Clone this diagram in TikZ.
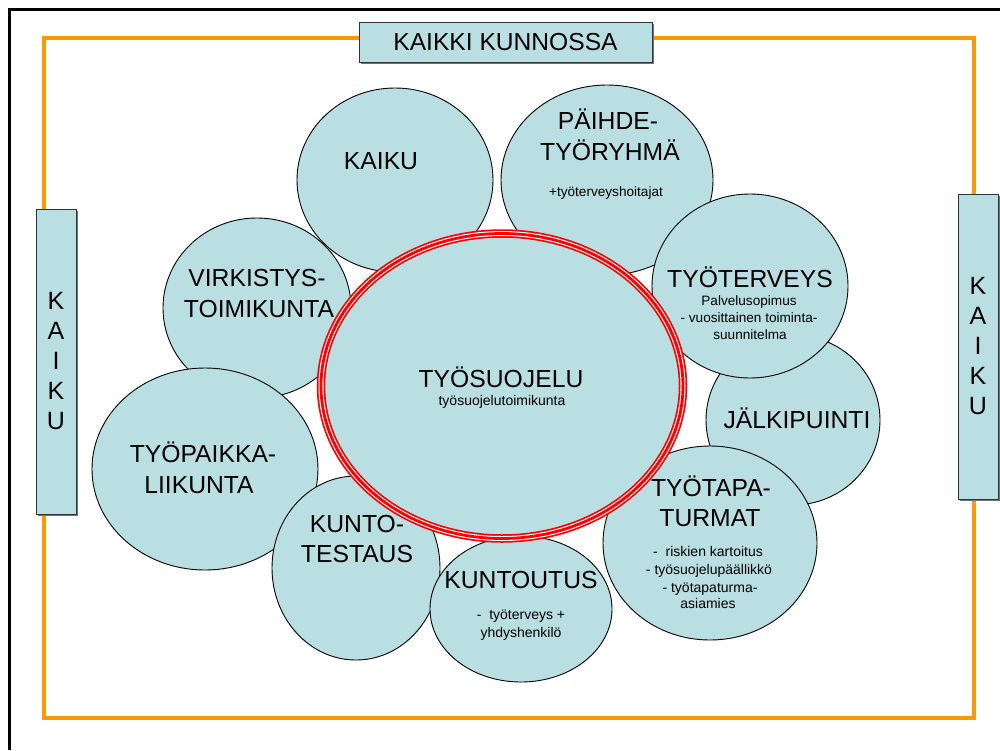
\documentclass[tikz,border=0pt]{standalone}
\usepackage{fontspec}
\setmainfont{Liberation Sans}
\usetikzlibrary{shapes.geometric,shadows}
\definecolor{bluefill}{RGB}{185,223,227}
\definecolor{frameorange}{RGB}{255,153,0}
\begin{document}
\begin{tikzpicture}[x=1pt,y=-1pt,
  blob/.style={ellipse, draw=black, line width=0.9pt, fill=bluefill, inner sep=0pt},
  title/.style={font=\fontsize{24.7}{29}\selectfont, inner sep=0pt, anchor=base},
  sub/.style={font=\fontsize{14}{17}\selectfont, inner sep=0pt, anchor=base},
  box/.style={draw=black!80, line width=0.8pt, fill=bluefill, inner sep=0pt,
    drop shadow={shadow xshift=1.5pt, shadow yshift=-1.5pt, fill=black!55, opacity=1}},
  orangeframe/.style={draw=frameorange, line width=4pt},
  blackframe/.style={draw=black, line width=3pt},
]
\useasboundingbox (0,0) rectangle (1000,750);
% outer frames
\draw[blackframe] (9.5,750) -- (9.5,9.5) -- (1000,9.5);
\draw[orangeframe] (44,38) rectangle (974,718);
% boxes
\node[box, minimum width=293pt, minimum height=40pt, font=\fontsize{24.6}{29}\selectfont] (kk) at (505.5,42) {KAIKKI KUNNOSSA};
\node[box, minimum width=40pt, minimum height=305pt, align=center, font=\fontsize{25}{30}\selectfont] (kl) at (56,361.5) {K\\A\\I\\K\\U};
\node[box, minimum width=40pt, minimum height=305pt, align=center, font=\fontsize{25}{30}\selectfont] (kr) at (978,346.5) {K\\A\\I\\K\\U};
% circles
\node[blob, minimum width=188pt, minimum height=180pt] (virk) at (257,308) {};
\node[blob, minimum width=196pt, minimum height=184pt] (kaiku) at (395,180) {};
\node[blob, minimum width=212pt, minimum height=190pt] (paihde) at (607,180) {};
\node[blob, minimum width=174pt, minimum height=170pt] (jalki) at (793,420) {};
\node[blob, minimum width=196pt, minimum height=184pt] (tyoter) at (750,286) {};
\node[blob, minimum width=214pt, minimum height=194pt] (tyotapa) at (710,543) {};
\node[blob, minimum width=226pt, minimum height=202pt] (paikka) at (205,469) {};
\node[blob, minimum width=168pt, minimum height=184pt] (kunto) at (356,568) {};
\node[blob, minimum width=182pt, minimum height=146pt] (kuntout) at (521,609) {};
% central ring
\node[ellipse, fill=bluefill, draw=red, line width=8.5pt, minimum width=362pt, minimum height=305pt, inner sep=0pt] (ts) at (502,386) {};
\draw[white, line width=5pt] (ts.center) ellipse [x radius=181pt, y radius=152.5pt];
\draw[red, line width=2.8pt] (ts.center) ellipse [x radius=181pt, y radius=152.5pt];
% texts
\node[title] (tkaiku) at (381,169) {KAIKU};
\node[title] (tpa1) at (608,129) {PÄIHDE-};
\node[title] (tpa2) at (610,160) {TYÖRYHMÄ};
\node[sub, font=\fontsize{13.6}{16}\selectfont] (tpa3) at (606,196) {+työterveyshoitajat};
\node[title] (tte1) at (750,287) {TYÖTERVEYS};
\node[sub, font=\fontsize{13.6}{16}\selectfont] (tte2) at (749,305) {Palvelusopimus};
\node[sub, font=\fontsize{13.6}{16}\selectfont] (tte3) at (749,322) {- vuosittainen toiminta-};
\node[sub, font=\fontsize{13.6}{16}\selectfont] (tte4) at (750,339) {suunnitelma};
\node[title] (tja) at (797,428.6) {JÄLKIPUINTI};
\node[title] (tta1) at (711,496) {TYÖTAPA-};
\node[title] (tta2) at (710,526) {TURMAT};
\node[sub] (tta3) at (708,556) {- \ riskien kartoitus};
\node[sub] (tta4) at (709,574) {- työsuojelupäällikkö};
\node[sub] (tta5) at (710,592) {- työtapaturma-};
\node[sub] (tta6) at (708,608) {asiamies};
\node[title] (tko1) at (521,588) {KUNTOUTUS};
\node[sub] (tko2) at (521,619) {- \ työterveys +};
\node[sub] (tko3) at (521,637) {yhdyshenkilö};
\node[title] (tkt1) at (357,532) {KUNTO-};
\node[title] (tkt2) at (357,562) {TESTAUS};
\node[title] (tpl1) at (203,462) {TYÖPAIKKA-};
\node[title] (tpl2) at (199,493) {LIIKUNTA};
\node[title] (tvi1) at (257,286) {VIRKISTYS-};
\node[title] (tvi2) at (259,317) {TOIMIKUNTA};
\node[title] (tts1) at (501,387) {TYÖSUOJELU};
\node[sub] (tts2) at (502,405) {työsuojelutoimikunta};
\end{tikzpicture}
\end{document}
